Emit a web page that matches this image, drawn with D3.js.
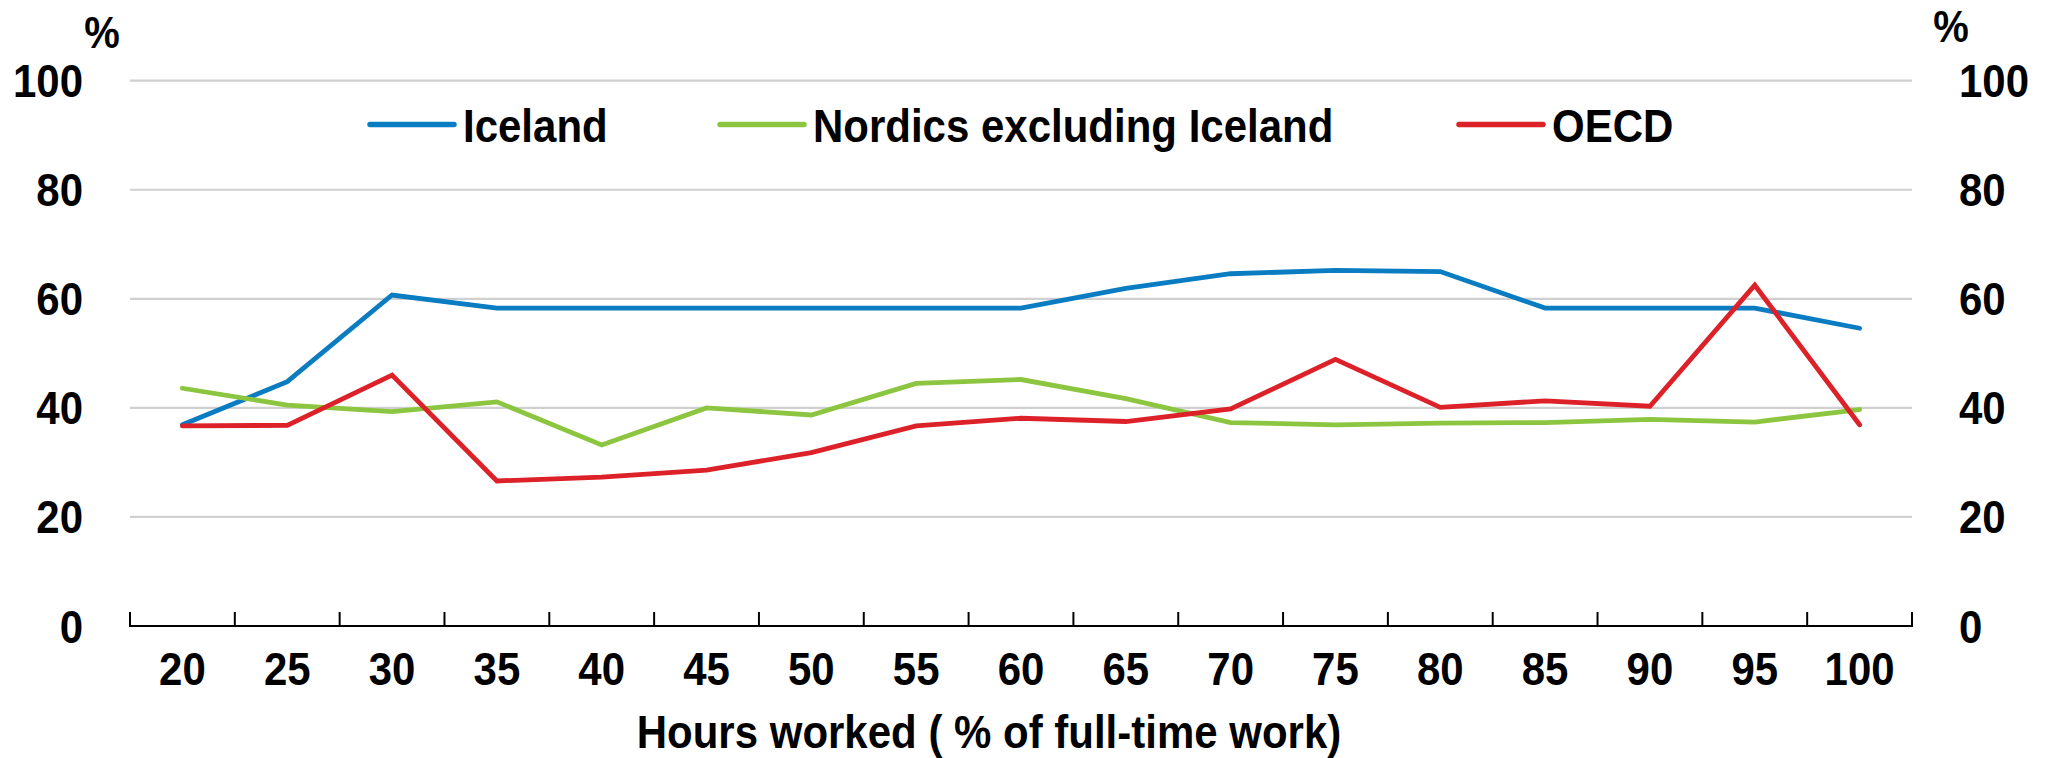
<html>
<head>
  <script src="https://d3js.org/d3.v7.min.js"></script>
  <style>
    body { margin: 0; background: #fff; }
    text { font-family: 'Liberation Sans', Arial, Helvetica, sans-serif; font-weight: bold; fill: #000; }
  </style>
</head>
<body>
  <svg id="chart" width="2049" height="758"></svg>
  <script>
    // ----
    // DATA
    // ----
    const hours = [20, 25, 30, 35, 40, 45, 50, 55, 60, 65, 70, 75, 80, 85, 90, 95, 100];
    const iceland = [36.9, 44.8, 60.7, 58.3, 58.3, 58.3, 58.3, 58.3, 58.3, 61.9, 64.6, 65.2, 65.0, 58.3, 58.3, 58.3, 54.6];
    const nordics = [43.6, 40.5, 39.3, 41.1, 33.2, 40.0, 38.7, 44.5, 45.2, 41.7, 37.3, 36.9, 37.2, 37.3, 37.9, 37.4, 39.7];
    const oecd = [36.7, 36.8, 46.0, 26.6, 27.3, 28.6, 31.8, 36.7, 38.1, 37.5, 39.8, 48.9, 40.1, 41.3, 40.3, 62.5, 36.9];
    const seriesNames = ["Iceland", "Nordics excluding Iceland", "OECD"];
    const yTicks = [0, 20, 40, 60, 80, 100];
    const xTitle = "Hours worked ( % of full-time work)";

    const colors = ["#0a7cc2", "#8cc640", "#dc2129"];
    const series = [iceland, nordics, oecd];

    // ----------
    // DIMENSIONS
    // ----------
    const svg = d3.select("svg#chart");
    const margin = { top: 80.7, right: 137, bottom: 132, left: 130 };
    const width = 2049, height = 758;
    const fontSize = 42;
    const stretch = "scale(1,1.12)";

    // ------
    // SCALES
    // ------
    const x = d3.scaleBand()
      .domain(hours)
      .range([margin.left, width - margin.right])
      .padding(0);
    const y = d3.scaleLinear()
      .domain([0, 100])
      .range([height - margin.bottom, margin.top]);

    // gridlines
    svg.append("g")
      .selectAll("line")
      .data(yTicks.filter(d => d > 0))
      .join("line")
      .attr("x1", x.range()[0])
      .attr("x2", x.range()[1])
      .attr("y1", d => y(d))
      .attr("y2", d => y(d))
      .attr("stroke", "#d0d0d0")
      .attr("stroke-width", 2.2);

    // y labels, both sides
    const addY = (xPos, anchor) => {
      svg.append("g")
        .selectAll("text")
        .data(yTicks)
        .join("text")
        .attr("transform", d => `translate(${xPos},${y(d) + 16.5}) ${stretch}`)
        .attr("text-anchor", anchor)
        .style("font-size", fontSize + "px")
        .text(d => d);
    };
    addY(83, "end");
    addY(1959, "start");

    // % unit labels
    svg.append("text")
      .attr("transform", `translate(102,48) ${stretch}`)
      .attr("text-anchor", "middle")
      .style("font-size", "40px")
      .text("%");
    svg.append("text")
      .attr("transform", `translate(1951,42) ${stretch}`)
      .attr("text-anchor", "middle")
      .style("font-size", "40px")
      .text("%");

    // x axis line and ticks at band edges
    const axisG = svg.append("g");
    axisG.append("line")
      .attr("x1", x.range()[0])
      .attr("x2", x.range()[1])
      .attr("y1", y(0))
      .attr("y2", y(0))
      .attr("stroke", "#000")
      .attr("stroke-width", 2.2);
    const edges = hours.map(h => x(h)).concat([x.range()[1]]);
    axisG.selectAll("line.tick")
      .data(edges)
      .join("line").attr("class", "tick")
      .attr("x1", d => d)
      .attr("x2", d => d)
      .attr("y1", y(0) + 1)
      .attr("y2", y(0) - 14)
      .attr("stroke", "#000")
      .attr("stroke-width", 2);

    axisG.selectAll("text")
      .data(hours)
      .join("text")
      .attr("transform", d => `translate(${x(d) + x.bandwidth() / 2},685) ${stretch}`)
      .attr("text-anchor", "middle")
      .style("font-size", fontSize + "px")
      .text(d => d);

    svg.append("text")
      .attr("transform", `translate(989,748) ${stretch}`)
      .attr("text-anchor", "middle")
      .style("font-size", fontSize + "px")
      .text(xTitle);

    // -----
    // LINES
    // -----
    const line = d3.line()
      .x((d, i) => x(hours[i]) + x.bandwidth() / 2)
      .y(d => y(d));

    svg.append("g")
      .selectAll("path")
      .data(series)
      .join("path")
      .attr("d", d => line(d))
      .attr("fill", "none")
      .attr("stroke", (d, i) => colors[i])
      .attr("stroke-width", 4.8)
      .attr("stroke-linecap", "round")
      .attr("stroke-linejoin", "miter");

    // ------
    // LEGEND
    // ------
    const legendX = [370, 720, 1459];
    const legendY = 124.5;
    const lg = svg.append("g")
      .selectAll("g")
      .data(seriesNames)
      .join("g")
      .attr("transform", (d, i) => `translate(${legendX[i]},${legendY})`);
    lg.append("line")
      .attr("x1", 0)
      .attr("x2", 84)
      .attr("stroke", (d, i) => colors[i])
      .attr("stroke-width", 5.5)
      .attr("stroke-linecap", "round");
    lg.append("text")
      .attr("transform", `translate(93,17) ${stretch}`)
      .style("font-size", fontSize + "px")
      .text(d => d);
  </script>
</body>
</html>
